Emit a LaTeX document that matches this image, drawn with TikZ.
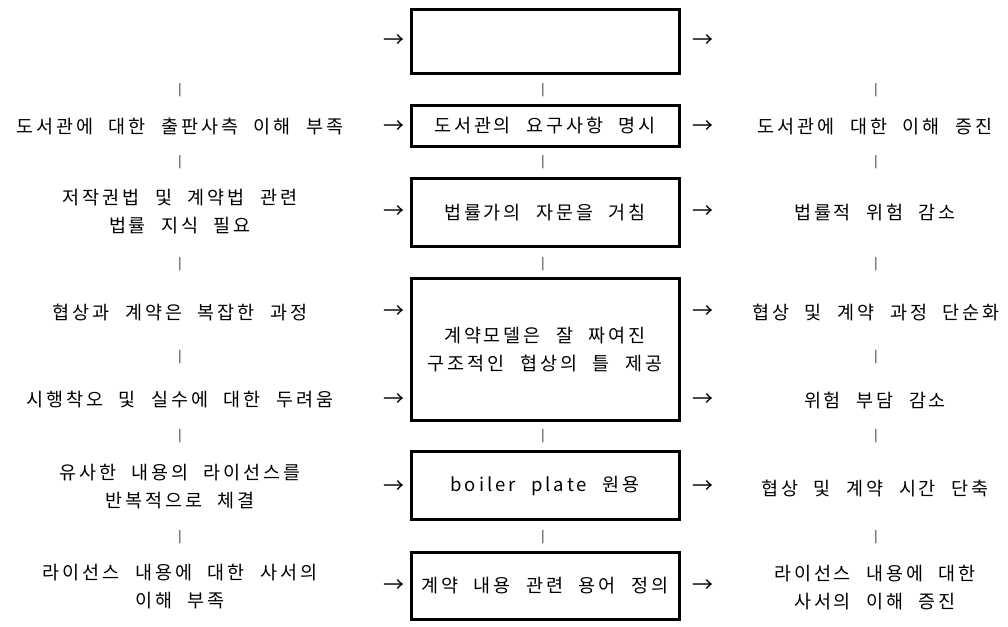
\documentclass[tikz,border=0pt]{standalone}
\usepackage{fontspec}
\setmainfont{Noto Sans CJK KR}
\newfontfamily\krfont[LetterSpace=16]{Noto Sans CJK KR}
\newfontfamily\symfont{Noto Sans CJK KR}
\newcommand\kfont{\krfont\fontsize{18.5}{28}\selectfont\spaceskip=15.5pt\relax}
\tikzset{
  x=1pt,y=-1pt,
  txt/.style={font=\kfont, align=center, inner sep=0pt, text=black},
  boxst/.style={draw=black, line width=3pt, minimum width=268pt, inner sep=0pt, font=\kfont, align=center},
  arr/.style={font=\symfont\fontsize{21}{21}\selectfont, inner sep=0pt},
  bar/.style={font=\symfont\fontsize{12}{12}\selectfont, inner sep=0pt},
}
\begin{document}
\begin{tikzpicture}
\useasboundingbox (0,0) rectangle (1008,626);
% central boxes
\node[boxst, minimum height=64pt] (b1) at (545,41.5) {};
\node[boxst, minimum height=41pt] (b2) at (545,126) {도서관의 요구사항 명시};
\node[boxst, minimum height=68pt] (b3) at (545,212.5) {법률가의 자문을 거침};
\node[boxst, minimum height=142pt] (b4) at (545,349.5) {계약모델은 잘 짜여진\\구조적인 협상의 틀 제공};
\node[boxst, minimum height=68pt] (b5) at (545,485.5) {boiler plate 원용};
\node[boxst, minimum height=67pt] (b6) at (545,586) {계약 내용 관련 용어 정의};
% left texts
\node[txt] (l2) at (180,127) {도서관에 대한 출판사측 이해 부족};
\node[txt] (l3) at (180,212) {저작권법 및 계약법 관련\\법률 지식 필요};
\node[txt] (l4) at (180,312) {협상과 계약은 복잡한 과정};
\node[txt] (l5) at (180,400) {시행착오 및 실수에 대한 두려움};
\node[txt] (l6) at (180,487) {유사한 내용의 라이선스를\\반복적으로 체결};
\node[txt] (l7) at (180,587) {라이선스 내용에 대한 사서의\\이해 부족};
% right texts
\node[txt] (r2) at (875,127) {도서관에 대한 이해 증진};
\node[txt] (r3) at (875,212) {법률적 위험 감소};
\node[txt] (r4) at (876,312) {협상 및 계약 과정 단순화};
\node[txt] (r5) at (875,400) {위험 부담 감소};
\node[txt] (r6) at (875,488) {협상 및 계약 시간 단축};
\node[txt] (r7) at (875,588) {라이선스 내용에 대한\\사서의 이해 증진};
% arrows
\foreach \y/\n in {41/1,127/2,212/3,312/4,400/5,487/6,586/7}{
  \node[arr] (al\n) at (394,\y) {→};
  \node[arr] (ar\n) at (703,\y) {→};
}
% separators
\foreach \y/\n in {90/1,162/2,264/3,357/4,436/5,537/6}{
  \node[bar] (sl\n) at (180,\y) {|};
  \node[bar] (sr\n) at (876,\y) {|};
}
\foreach \y/\n in {90/1,162/2,264/3,436/5,537/6}{
  \node[bar] (sc\n) at (543,\y) {|};
}
\end{tikzpicture}
\end{document}
